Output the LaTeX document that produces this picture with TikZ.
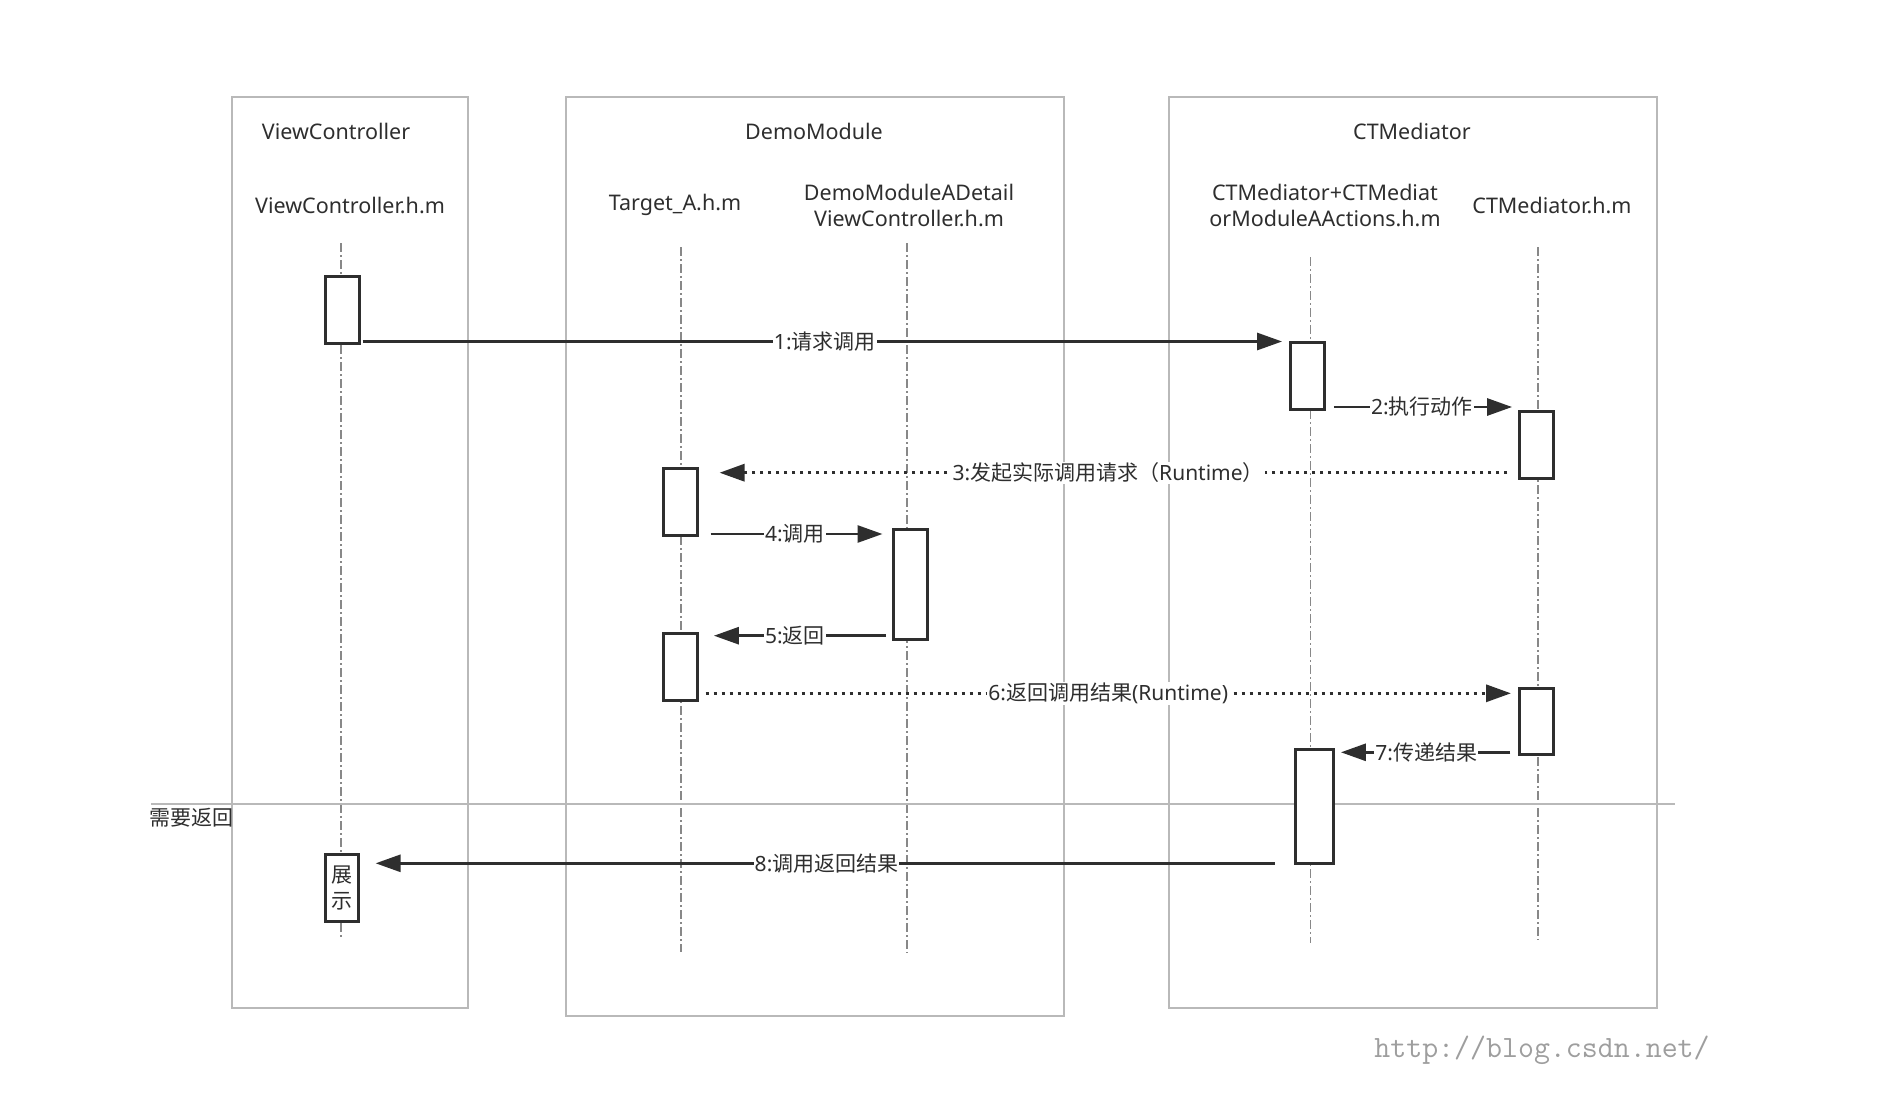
\documentclass[tikz,border=0pt]{standalone}
\usepackage{fontspec}
\setmainfont{Noto Sans}
\newfontfamily\cjk{Noto Sans CJK SC}
\usetikzlibrary{arrows.meta}

\newcommand{\zh}[1]{{\cjk #1}}

\definecolor{framegray}{HTML}{B9B9B9}
\definecolor{linegray}{HTML}{888888}
\definecolor{inkgray}{HTML}{2E2E2E}

\tikzset{
  frame/.style={draw=framegray, line width=2pt},
  lifeline/.style={draw=linegray, line width=1.8pt, dash pattern=on 9pt off 3pt on 2pt off 3pt},
  act/.style={draw=inkgray, fill=white, line width=3pt, minimum width=34pt, inner sep=0pt},
  msg/.style={draw=inkgray, line width=2.8pt, -{Triangle[length=25pt,width=17pt]}},
  ret/.style={msg, line width=3.2pt, dash pattern=on 3.5pt off 4.5pt},
  lbl/.style={fill=white, inner sep=1pt, text=inkgray, font=\fontsize{21}{26}\selectfont},
  head/.style={text=inkgray, inner sep=0pt, align=center, font=\fontsize{21.5}{26}\selectfont},
}

\begin{document}
\begin{tikzpicture}[x=1pt,y=-1pt]

      \useasboundingbox (0,0) rectangle (1904,1114);

      % Frames
      \draw[frame] (231.5,96.5) rectangle (468,1007.5);   % ViewController
      \draw[frame] (566,96.5) rectangle (1064,1015.5);    % DemoModule
      \draw[frame] (1168.5,96.5) rectangle (1656.5,1008); % CTMediator

      % Frame titles
      \node[head] (vctitle) at (336,131) {ViewController};
      \node[head] (dmtitle) at (814,131) {DemoModule};
      \node[head] (ctmtitle) at (1412,131) {CTMediator};

      % Lifeline heads
      \node[head] (vcfile) at (350,205) {ViewController.h.m};
      \node[head] (tgtfile) at (675,205) {Target\_A.h.m};
      \node[head] (dtlfile) at (909,205.5) {DemoModuleADetail\\ViewController.h.m};
      \node[head] (catfile) at (1325,205.5) {CTMediator+CTMediat\\orModuleAActions.h.m};
      \node[head] (ctmfile) at (1552,205) {CTMediator.h.m};

      % Lifelines
      \foreach \x/\ya/\yb in {341/243/938, 681/247/952, 907/243/953, 1310.5/257/943, 1538/247/940}
          \draw[lifeline] (\x,\ya) -- (\x,\yb);

      % Separator
      \coordinate (sepL) at (151,803.5);
      \coordinate (sepR) at (1675,803.5);
      \draw[framegray, line width=2pt] (sepL) -- (sepR);
      \node[lbl, fill=none, inner sep=0pt, anchor=west] (needret) at (149,818) {\zh{需要返回}};

      % Activations
      \node[act, minimum height=67pt] (vcA) at (342,309.7) {};
      \node[act, minimum height=67pt] (ctmcA) at (1307.6,375.5) {};
      \node[act, minimum height=67pt] (ctmA) at (1536.3,444.7) {};
      \node[act, minimum height=67pt] (tgtA) at (680,502.2) {};
      \node[act, minimum height=110pt] (dtlA) at (910,584.3) {};
      \node[act, minimum height=67pt] (tgtB) at (680,667) {};
      \node[act, minimum height=66pt] (ctmB) at (1536.5,721) {};
      \node[act, minimum height=114pt, minimum width=38pt] (ctmcB) at (1314,806.2) {};
      \node[act, minimum height=67pt, minimum width=33pt, align=center, text=inkgray,
            font=\cjk\fontsize{21}{26.5}\selectfont] (show) at (341.6,888) {展\\示};

      % Message levels
      \foreach \n/\y in {1/341.5, 2/407, 3/472.7, 4/534, 5/635.7, 6/693.3, 7/752.3, 8/863.3}
          \coordinate (m\n) at (0,\y);

      % Messages
      \draw[msg, shorten <=2pt, shorten >=7pt] (vcA.east |- m1) -- node[lbl] {1:\zh{请求调用}} (ctmcA.west |- m1);
      \draw[msg, shorten <=7.7pt, shorten >=5.7pt] (ctmcA.east |- m2) -- node[lbl] {2:\zh{执行动作}} (ctmA.west |- m2);
      \draw[ret, shorten <=10.5pt, shorten >=21pt] (ctmA.west |- m3) -- node[lbl] {3:\zh{发起实际调用请求（}Runtime\zh{）}} (tgtA.east |- m3);
      \draw[msg, shorten <=12pt, shorten >=9pt] (tgtA.east |- m4) -- node[lbl] {4:\zh{调用}} (dtlA.west |- m4);
      \draw[msg, shorten <=5.4pt, shorten >=15.4pt] (dtlA.west |- m5) -- node[lbl] {5:\zh{返回}} (tgtB.east |- m5);
      \draw[ret, shorten <=7pt, shorten >=7pt] (tgtB.east |- m6) -- node[lbl] {6:\zh{返回调用结果}(Runtime)} (ctmB.west |- m6);
      \draw[msg, shorten <=7.6pt, shorten >=6.4pt] (ctmB.west |- m7) -- node[lbl] {7:\zh{传递结果}} (ctmcB.east |- m7);
      \draw[msg, shorten <=19pt, shorten >=16pt] (ctmcB.west |- m8) -- node[lbl] {8:\zh{调用返回结果}} (show.east |- m8);

      % Watermark
      \node[text=black!38, inner sep=0pt, font=\ttfamily\fontsize{31}{36}\selectfont] (watermark) at (1542,1050) {http://blog.csdn.net/};

\end{tikzpicture}
\end{document}
